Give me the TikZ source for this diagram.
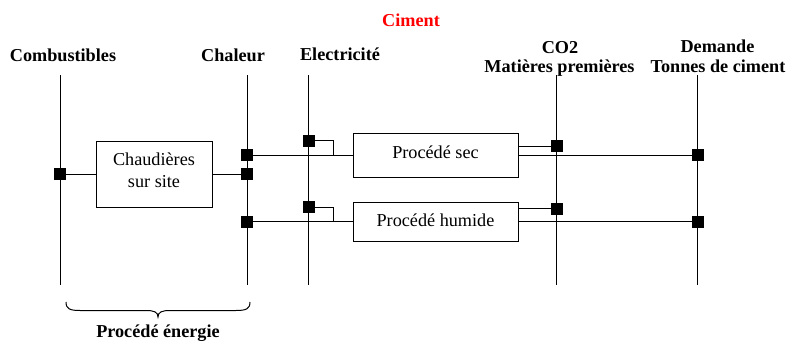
\documentclass[tikz,border=0pt]{standalone}
\usepackage{fontspec}
\setmainfont{Liberation Serif}
\begin{document}
\begin{tikzpicture}[x=1pt,y=-1pt,
  line width=1pt,
  lbl/.style={font=\fontsize{18.2}{20}\selectfont\bfseries, anchor=base, inner sep=0pt},
  txt/.style={font=\fontsize{18.2}{20}\selectfont, anchor=base, inner sep=0pt},
  sq/.style={fill=black, draw=none, minimum size=12pt, inner sep=0pt, rectangle},
  proc/.style={draw, line width=1pt, rectangle, inner sep=0pt}]
\useasboundingbox (0,0) rectangle (788,343);
% labels
\node[lbl] (lcomb) at (63,61) {Combustibles};
\node[lbl] (lchal) at (233,61.5) {Chaleur};
\node[lbl] (lelec) at (340,60) {Electricité};
\node[lbl, text=red] (lcim) at (411,26.5) {Ciment};
\node[lbl] (lco2) at (560,53) {CO2};
\node[lbl] (lmat) at (559.5,72.5) {Matières premières};
\node[lbl] (ldem) at (717.5,52.5) {Demande};
\node[lbl] (lton) at (718,72.5) {Tonnes de ciment};
\node[lbl] (lener) at (158,337) {Procédé énergie};
% vertical lines
\coordinate (v1t) at (60,75);  \coordinate (v1b) at (60,285);
\coordinate (v2t) at (247,75); \coordinate (v2b) at (247,285);
\coordinate (v3t) at (308.5,75); \coordinate (v3b) at (308.5,285);
\coordinate (v4t) at (556,75); \coordinate (v4b) at (556,285);
\coordinate (v5t) at (697.5,75); \coordinate (v5b) at (697.5,285);
\foreach \v in {1,...,5}{\draw (v\v t) -- (v\v b);}
% boxes
\node[proc, minimum width=116pt, minimum height=66pt] (chaud) at (154,174) {};
\node[txt] (tch1) at (154,165) {Chaudières};
\node[txt] (tch2) at (154,187) {sur site};
\node[proc, minimum width=165pt, minimum height=44pt] (sec) at (435.5,155) {};
\node[txt] (tsec) at (435.5,158) {Procédé sec};
\node[proc, minimum width=165pt, minimum height=39pt] (hum) at (435.5,221.5) {};
\node[txt] (thum) at (435.5,226.5) {Procédé humide};
% squares (positions)
\coordinate (pA) at (60,174);
\coordinate (pB) at (247,155);
\coordinate (pC) at (247,174);
\coordinate (pD) at (247,221.5);
\coordinate (pE) at (308.5,140.5);
\coordinate (pF) at (308.5,207);
\coordinate (pG) at (556.5,146);
\coordinate (pH) at (556.5,208.5);
\coordinate (pI) at (697.5,155);
\coordinate (pJ) at (697.5,221.5);
\coordinate (j1) at (333,155);
\coordinate (j2) at (333,221.5);
% connectors
\draw (pA) -- (chaud.west |- pA);
\draw (chaud.east |- pC) -- (pC);
\draw (pB) -- (sec.west |- pB);
\draw (pE) -| (j1);
\draw (pD) -- (hum.west |- pD);
\draw (pF) -| (j2);
\draw (sec.east |- pG) -- (pG);
\draw (sec.east |- pI) -- (pI);
\draw (hum.east |- pH) -- (pH);
\draw (hum.east |- pJ) -- (pJ);
% squares
\foreach \p in {A,B,C,D,E,F,G,H,I,J}{\node[sq] (s\p) at (p\p) {};}
% brace
\draw (66,302) .. controls (66,309) and (70,310.5) .. (80,310.5) -- (146,310.5)
  .. controls (154,310.5) and (158,312) .. (158,317)
  .. controls (158,312) and (162,310.5) .. (170,310.5) -- (236,310.5)
  .. controls (246,310.5) and (250,309) .. (250,302);
\end{tikzpicture}
\end{document}
